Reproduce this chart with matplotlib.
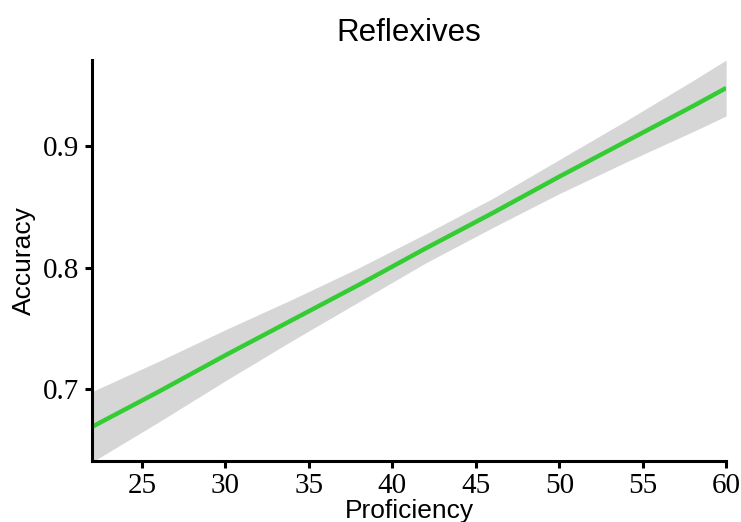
import matplotlib
matplotlib.use("Agg")
import matplotlib.pyplot as plt

proficiency = [22, 26, 30, 34, 38, 42, 46, 50, 54, 58, 60]
accuracy_fit = [0.669, 0.698, 0.728, 0.757, 0.786, 0.816, 0.845, 0.875, 0.904, 0.933, 0.948]
ci_lower = [0.640, 0.673, 0.707, 0.740, 0.772, 0.804, 0.833, 0.861, 0.887, 0.912, 0.925]
ci_upper = [0.698, 0.723, 0.749, 0.774, 0.800, 0.828, 0.857, 0.889, 0.921, 0.954, 0.971]
x_ticks = [25, 30, 35, 40, 45, 50, 55, 60]
y_ticks = [0.7, 0.8, 0.9]

fig = plt.figure(figsize=(7.41, 5.22), dpi=100)
ax = fig.add_axes([0.124, 0.117, 0.856, 0.768])

ax.fill_between(proficiency, ci_lower, ci_upper, color="#D6D6D6", linewidth=0)
ax.plot(proficiency, accuracy_fit, color="#33CC33", linewidth=3.2, solid_capstyle="butt")

ax.set_xlim(22, 60)
ax.set_ylim(0.641, 0.971)
ax.set_xticks(x_ticks)
ax.set_yticks(y_ticks)
ax.set_xticklabels([str(t) for t in x_ticks], fontfamily="Liberation Serif", fontsize=21)
ax.set_yticklabels([f"{t:.1f}" for t in y_ticks], fontfamily="Liberation Serif", fontsize=21)

for s in ["top", "right"]:
    ax.spines[s].set_visible(False)
for s in ["left", "bottom"]:
    ax.spines[s].set_linewidth(2.2)
    ax.spines[s].set_color("black")
ax.tick_params(axis="both", direction="out", length=5, width=2.2, color="black", pad=4)

ax.set_xlabel("Proficiency", fontfamily="Liberation Sans", fontsize=19, labelpad=0)
ax.set_ylabel("Accuracy", fontfamily="Liberation Sans", fontsize=19, labelpad=5)
ax.set_title("Reflexives", fontfamily="Liberation Sans", fontsize=22.5, pad=14)

fig.savefig("out.png", dpi=100)
